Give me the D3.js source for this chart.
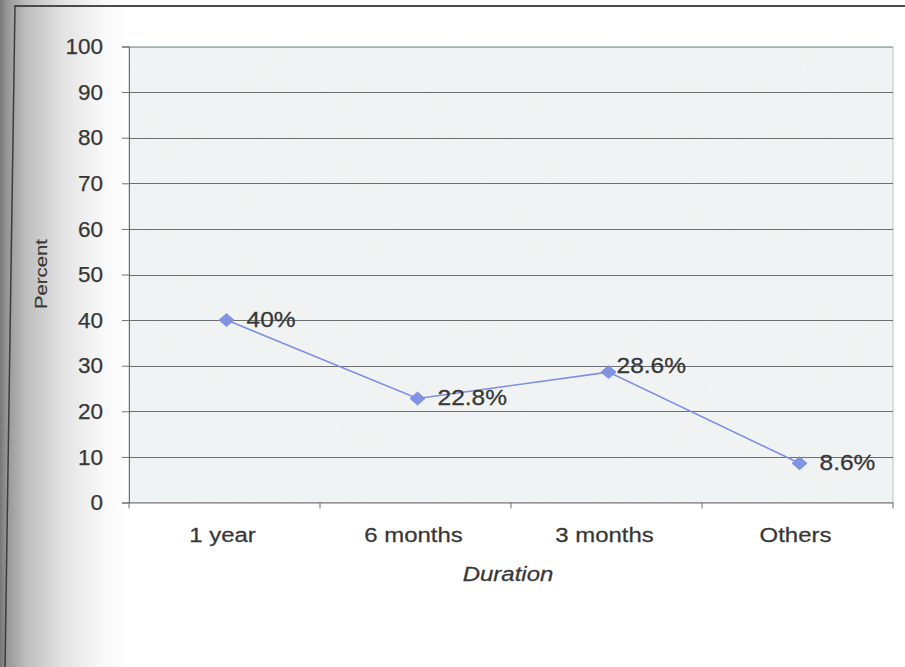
<!DOCTYPE html>
<html>
<head>
<meta charset="utf-8">
<script src="https://cdn.jsdelivr.net/npm/d3@7"></script>
<style>
  html, body { margin: 0; padding: 0; background: #ffffff; }
  svg { display: block; }
  text { font-family: "Liberation Sans", Arial, sans-serif; fill: #363636; stroke: #363636; stroke-width: 0.25px; }
</style>
</head>
<body>
<svg id="chart" width="905" height="667"></svg>
<script>
// Survey data: share of respondents by duration
const categories = ["1 year", "6 months", "3 months", "Others"];
const percents = [40, 22.8, 28.6, 8.6];
const pointLabels = ["40%", "22.8%", "28.6%", "8.6%"];
const yTicks = [0, 10, 20, 30, 40, 50, 60, 70, 80, 90, 100];
const xTitle = "Duration";
const yTitle = "Percent";

const W = 905, H = 667;
const plot = { left: 129, right: 893, top: 46.5, bottom: 502.5 };
// per-label nudges for the value labels (the third one sits tucked in above its point)
const labelShift = [[0, 0], [0, 0], [-12, -6], [0, 0]];

const svg = d3.select("#chart");
const defs = svg.append("defs");

// Page shading darkening toward the left edge
const grad = defs.append("linearGradient").attr("id", "edgeShade")
  .attr("x1", 0).attr("x2", 1).attr("y1", 0).attr("y2", 0);
grad.append("stop").attr("offset", "0").attr("stop-color", "#767676");
grad.append("stop").attr("offset", "0.05").attr("stop-color", "#959595");
grad.append("stop").attr("offset", "0.2").attr("stop-color", "#bdbdbd");
grad.append("stop").attr("offset", "0.5").attr("stop-color", "#e4e4e4");
grad.append("stop").attr("offset", "0.8").attr("stop-color", "#f8f8f8");
grad.append("stop").attr("offset", "1").attr("stop-color", "#ffffff");

// Fine grain for the plot area
const grain = defs.append("filter").attr("id", "grain")
  .attr("x", 0).attr("y", 0).attr("width", 1).attr("height", 1);
grain.append("feTurbulence").attr("type", "fractalNoise")
  .attr("baseFrequency", 0.9).attr("numOctaves", 2).attr("seed", 3).attr("result", "noise");
grain.append("feColorMatrix").attr("in", "noise").attr("type", "matrix")
  .attr("values", "0 0 0 0 0.6  0 0 0 0 0.64  0 0 0 0 0.66  0 0 0 0.12 0").attr("result", "tint");
grain.append("feComposite").attr("in", "tint").attr("in2", "SourceGraphic").attr("operator", "in");

svg.append("rect").attr("width", W).attr("height", H).attr("fill", "#ffffff");
svg.append("rect").attr("x", 0).attr("y", 0).attr("width", 128).attr("height", H)
  .attr("fill", "url(#edgeShade)");

// Chart frame edges
svg.append("line").attr("x1", 14).attr("y1", 6).attr("x2", W).attr("y2", 6)
  .attr("stroke", "#4a4a4a").attr("stroke-width", 2);
svg.append("line").attr("x1", 15).attr("y1", 6).attr("x2", 5).attr("y2", H)
  .attr("stroke", "#3c3c3c").attr("stroke-width", 1.5);

const x = d3.scaleBand().domain(categories).range([plot.left, plot.right]);
const y = d3.scaleLinear().domain([0, 100]).range([plot.bottom, plot.top]);

// Horizontally widened text, anchored at (tx, ty)
function wideText(parent, tx, ty, str, size, sx, anchor) {
  return parent.append("text")
    .attr("transform", `translate(${tx},${ty}) scale(${sx},1)`)
    .attr("text-anchor", anchor || "start")
    .attr("font-size", size).text(str);
}

// Plot area
const area = svg.append("g");
area.append("rect")
  .attr("x", plot.left).attr("y", plot.top)
  .attr("width", plot.right - plot.left).attr("height", plot.bottom - plot.top)
  .attr("fill", "#f3f5f5").attr("stroke", "#bcc2c5").attr("stroke-width", 1);
area.append("rect")
  .attr("x", plot.left).attr("y", plot.top)
  .attr("width", plot.right - plot.left).attr("height", plot.bottom - plot.top)
  .attr("fill", "#ffffff").attr("filter", "url(#grain)");

// Horizontal gridlines
area.selectAll("line.grid").data(yTicks.filter(d => d > 0 && d < 100)).join("line")
  .attr("class", "grid")
  .attr("x1", plot.left).attr("x2", plot.right)
  .attr("y1", d => Math.round(y(d)) + 0.5).attr("y2", d => Math.round(y(d)) + 0.5)
  .attr("stroke", "#6e6e6e").attr("stroke-width", 1);
area.append("line")
  .attr("x1", plot.left).attr("x2", plot.right)
  .attr("y1", Math.round(y(100)) + 0.5).attr("y2", Math.round(y(100)) + 0.5)
  .attr("stroke", "#a9aeb2").attr("stroke-width", 1);

// Y axis
const yAxis = d3.axisLeft(y).tickValues(yTicks).tickSize(7).tickPadding(19);
const gy = svg.append("g").attr("transform", `translate(${plot.left},0)`).call(yAxis);
gy.select(".domain").attr("stroke", "#6e6e6e");
gy.selectAll(".tick line").attr("stroke", "#6e6e6e");
gy.selectAll(".tick text").attr("font-size", 22.5).attr("fill", "#363636")
  .attr("font-family", "'Liberation Sans', Arial, sans-serif");

// X axis with ticks on category boundaries
const gx = svg.append("g").attr("transform", `translate(0,${plot.bottom})`);
gx.append("line").attr("x1", plot.left).attr("x2", plot.right)
  .attr("y1", 0.5).attr("y2", 0.5).attr("stroke", "#6e6e6e");
const bounds = categories.map(c => x(c)).concat([x(categories[categories.length - 1]) + x.bandwidth()]);
gx.selectAll("line.bt").data(bounds).join("line").attr("class", "bt")
  .attr("x1", d => d).attr("x2", d => d).attr("y1", 0).attr("y2", 6)
  .attr("stroke", "#6e6e6e");
categories.forEach(c => {
  wideText(gx, x(c) + x.bandwidth() / 2 - 2, 39, c, 21, 1.14, "middle");
});

// Axis titles
wideText(svg, 508, 581, xTitle, 20.5, 1.17, "middle").attr("font-style", "italic");
svg.append("text").attr("transform", "translate(47,274) rotate(-90) scale(1.27,1)")
  .attr("text-anchor", "middle").attr("font-size", 16).style("stroke-width", "0.15px").text(yTitle);

// Series line, markers and value labels
const cx = d => x(d.cat) + x.bandwidth() / 2 + 2;
const data = categories.map((c, i) => ({ cat: c, v: percents[i], label: pointLabels[i], i }));

svg.append("path").datum(data)
  .attr("d", d3.line().x(cx).y(d => y(d.v)))
  .attr("fill", "none").attr("stroke", "#7b8fe6").attr("stroke-width", 1.6);

const diamond = "M0,-6.5L7.5,0L0,6.5L-7.5,0Z";
svg.selectAll("path.mk").data(data).join("path").attr("class", "mk")
  .attr("d", diamond)
  .attr("transform", d => `translate(${cx(d)},${y(d.v)})`)
  .attr("fill", "#8193e2").attr("stroke", "#7386da").attr("stroke-width", 0.8);

data.forEach(d => {
  const [dx, dy] = labelShift[d.i];
  wideText(svg, cx(d) + 20 + dx, y(d.v) + 6.5 + dy, d.label, 21.5, 1.14, "start");
});
</script>
</body>
</html>
